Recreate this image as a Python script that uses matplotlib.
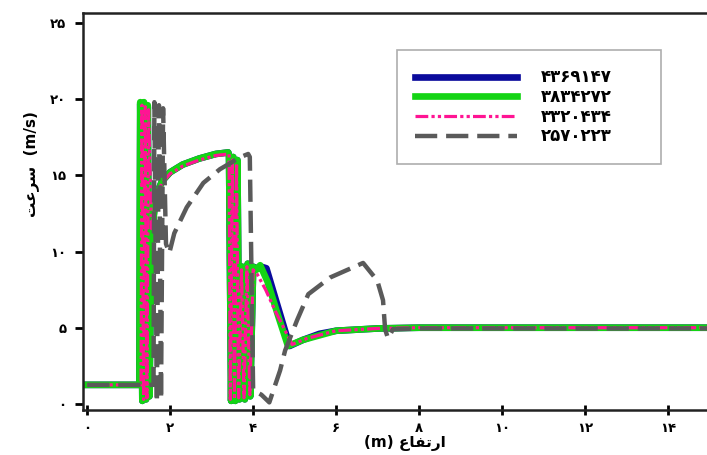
import matplotlib
matplotlib.use("Agg")
import matplotlib.pyplot as plt

plt.rcParams["font.family"] = ["DejaVu Sans"]
plt.rcParams["font.weight"] = "bold"

# tick labels (persian digits)
X_TICKS = [0, 2, 4, 6, 8, 10, 12, 14]
X_TICK_LABELS = ["۰", "۲", "۴", "۶", "۸", "۱۰", "۱۲", "۱۴"]
Y_TICKS = [0, 5, 10, 15, 20, 25]
Y_TICK_LABELS = ["۰", "۵", "۱۰", "۱۵", "۲۰", "۲۵"]

SERIES_LABELS = ["۴۳۶۹۱۴۷", "۳۸۳۴۲۷۲", "۳۳۲۰۴۳۴", "۲۵۷۰۲۲۳"]

# axis labels, arabic letters already in shaped / visual order
X_LABEL = "(m) \uFEC9\uFE8E\uFED4\uFE97\uFEAD\uFE8D"
Y_LABEL = "\uFE96\uFECB\uFEAE\uFEB3  (m/s)"

blue_x = [0, 1.26, 1.28, 1.33, 1.37, 1.42, 1.46, 1.50, 1.55, 1.65,
          1.8, 2.0, 2.3, 2.7, 3.1, 3.4, 3.42, 3.47, 3.52, 3.57,
          3.62, 3.67, 3.74, 3.80, 3.87, 3.93, 4.00, 4.10, 4.20, 4.32,
          4.55, 4.88, 5.20, 5.60, 6.00, 7.00, 8.00, 15.0]
blue_y = [1.25, 1.25, 19.7, 0.2, 19.7, 0.3, 19.5, 0.5, 11.0, 13.6,
          14.6, 15.2, 15.7, 16.1, 16.4, 16.5, 16.3, 0.2, 16.2, 0.2,
          16.0, 0.3, 9.0, 0.3, 9.2, 0.5, 9.0, 8.9, 9.0, 8.9,
          6.8, 3.8, 4.2, 4.6, 4.8, 4.95, 5.0, 5.0]

green_x = [0, 1.26, 1.28, 1.33, 1.37, 1.42, 1.46, 1.50, 1.55, 1.65,
           1.8, 2.0, 2.3, 2.7, 3.1, 3.4, 3.42, 3.47, 3.52, 3.57,
           3.62, 3.67, 3.74, 3.80, 3.87, 3.93, 4.00, 4.08, 4.17, 4.35,
           4.60, 4.84, 5.20, 5.60, 6.00, 7.00, 8.00, 15.0]
green_y = [1.25, 1.25, 19.8, 0.2, 19.8, 0.3, 19.6, 0.5, 10.8, 13.5,
           14.6, 15.2, 15.7, 16.1, 16.4, 16.5, 16.3, 0.2, 16.2, 0.2,
           16.0, 0.3, 9.0, 0.3, 9.2, 0.5, 9.0, 8.8, 9.1, 8.0,
           5.8, 3.8, 4.2, 4.5, 4.8, 4.95, 5.0, 5.0]

pink_x = [0, 1.30, 1.32, 1.36, 1.40, 1.44, 1.48, 1.55, 1.65, 1.8,
          2.0, 2.3, 2.7, 3.1, 3.42, 3.45, 3.50, 3.55, 3.60, 3.65,
          3.72, 3.78, 3.85, 3.92, 4.00, 4.10, 4.30, 4.55, 4.94, 5.30,
          6.00, 7.00, 8.00, 15.0]
pink_y = [1.25, 1.25, 19.6, 0.3, 19.5, 0.4, 19.3, 11.5, 13.3, 14.5,
          15.1, 15.6, 16.0, 16.3, 16.4, 0.3, 16.0, 0.3, 15.8, 0.4,
          8.8, 0.4, 9.0, 0.6, 8.8, 8.5, 7.5, 6.0, 3.9, 4.3,
          4.8, 4.95, 5.0, 5.0]

grey_x = [0, 1.60, 1.62, 1.68, 1.73, 1.78, 1.83, 1.90, 1.98, 2.10,
          2.40, 2.80, 3.20, 3.70, 3.88, 3.92, 4.00, 4.20, 4.39, 4.65,
          4.77, 5.06, 5.33, 5.86, 6.65, 6.99, 7.13, 7.18, 7.25, 7.37,
          8.00, 15.0]
grey_y = [1.25, 1.25, 19.8, 0.1, 19.6, 0.3, 19.4, 10.5, 9.9, 11.2,
          12.9, 14.5, 15.4, 16.2, 16.4, 16.2, 0.9, 0.6, 0.1, 2.2,
          3.5, 5.5, 7.2, 8.3, 9.25, 8.1, 6.8, 4.9, 4.3, 4.9,
          4.95, 4.95]

fig = plt.figure(figsize=(7.07, 4.55), dpi=100)
ax = fig.add_axes([83 / 707, 1 - 410 / 455, 626.6 / 707, 397 / 455])

ax.plot(blue_x, blue_y, color="#0b0b9c", lw=4.8, label=SERIES_LABELS[0])
ax.plot(green_x, green_y, color="#14d414", lw=4.8, label=SERIES_LABELS[1])
ax.plot(pink_x, pink_y, color="#ff1493", lw=2.3,
        ls=(0, (4, 1, 1, 1, 1, 1)), label=SERIES_LABELS[2])
ax.plot(grey_x, grey_y, color="#5a5a5a", lw=3.2,
        ls=(0, (5, 2)), label=SERIES_LABELS[3])

ax.set_xlim(-0.1, 15.0)
ax.set_ylim(-0.4, 25.65)
ax.set_xticks(X_TICKS, X_TICK_LABELS)
ax.set_yticks(Y_TICKS, Y_TICK_LABELS)
ax.tick_params(axis="x", direction="inout", length=7, width=2, pad=5,
               labelsize=9.5)
ax.tick_params(axis="y", direction="out", length=6, width=2, pad=6,
               labelsize=9.5)
for s in ax.spines.values():
    s.set_linewidth(1.8)
    s.set_color("#222222")

# legend box stretched to the width seen in the reference
leg = ax.legend(loc="upper left",
                bbox_to_anchor=(397 / 707, 1 - 157 / 455, 264 / 707, 107 / 455),
                bbox_transform=fig.transFigure, mode="expand", borderaxespad=0,
                fancybox=False, edgecolor="#9a9a9a", handlelength=6.1,
                handletextpad=1.45, borderpad=1.1, labelspacing=0.1,
                prop={"size": 12, "weight": "bold"})
leg.get_frame().set_linewidth(1.2)

fig.text(31 / 707, 1 - 164 / 455, Y_LABEL, rotation=90, ha="center",
         va="center", fontsize=11, fontweight="bold")
fig.text(405 / 707, 1 - 443 / 455, X_LABEL, ha="center", va="center",
         fontsize=11, fontweight="bold")

fig.savefig("out.png", dpi=100)
